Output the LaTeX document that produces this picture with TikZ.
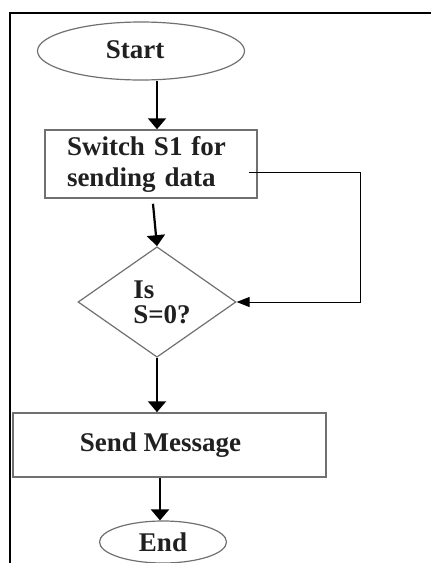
\documentclass[tikz,border=0pt]{standalone}
\usepackage{fontspec}
\setmainfont{Liberation Serif}
\usetikzlibrary{shapes.geometric,arrows.meta,calc}
\definecolor{edge}{HTML}{707070}
\definecolor{ink}{HTML}{202020}
\tikzset{
  every node/.style={font=\fontsize{27}{31}\selectfont\bfseries, text=ink},
  term/.style={ellipse, draw=edge, line width=1.2pt, inner sep=0pt},
  procbox/.style={rectangle, draw=edge, line width=1.5pt, inner sep=0pt},
  decide/.style={diamond, draw=edge, line width=1.2pt, inner sep=0pt},
  arr/.style={-{Triangle[width=18pt,length=11pt]}, line width=2.2pt, black},
  loopline/.style={-{Triangle[width=10pt,length=13pt]}, line width=1pt, black},
}
\begin{document}
\begin{tikzpicture}[x=1pt,y=-1pt]
\useasboundingbox (0,0) rectangle (431,563);
\draw[line width=2.8pt, black] (10,563) -- (10,13) -- (431,13);

\node[term, minimum width=207pt, minimum height=58pt] (start) at (141,51) {\hspace*{-12pt}\raisebox{2pt}{Start}};
\node[procbox, minimum width=212pt, minimum height=68pt, text width=168pt, inner xsep=22pt, align=left] (b1) at (151,164) {Switch S1 for\\sending data};
\node[decide, minimum width=158pt, minimum height=103pt, align=left, font=\fontsize{27}{25}\selectfont\bfseries] (d) at (157,302) {\hspace*{10pt}Is\\\hspace*{10pt}S=0?};
\node[procbox, minimum width=313pt, minimum height=64pt] (b2) at (169.5,445) {\hspace*{-18pt}Send Message};
\node[term, minimum width=127pt, minimum height=42pt] (end) at (163,542) {End};

\coordinate (sa) at ($(start.south)+(16,0)$);
\draw[arr] (sa) -- (sa |- b1.north);
\coordinate (ba) at ($(b1.south)+(2,5)$);
\draw[arr] (ba) -- (d.north);
\draw[arr] (d.south) -- (d.south |- b2.north);
\coordinate (ea) at ($(end.north)+(-3,0)$);
\draw[arr] (ea |- b2.south) -- (ea);

\coordinate (ls) at ($(b1.east)+(-9,8)$);
\coordinate (lc) at (360,0);
\draw[loopline] (ls) -- (ls -| lc) |- (d.east);
\end{tikzpicture}
\end{document}
